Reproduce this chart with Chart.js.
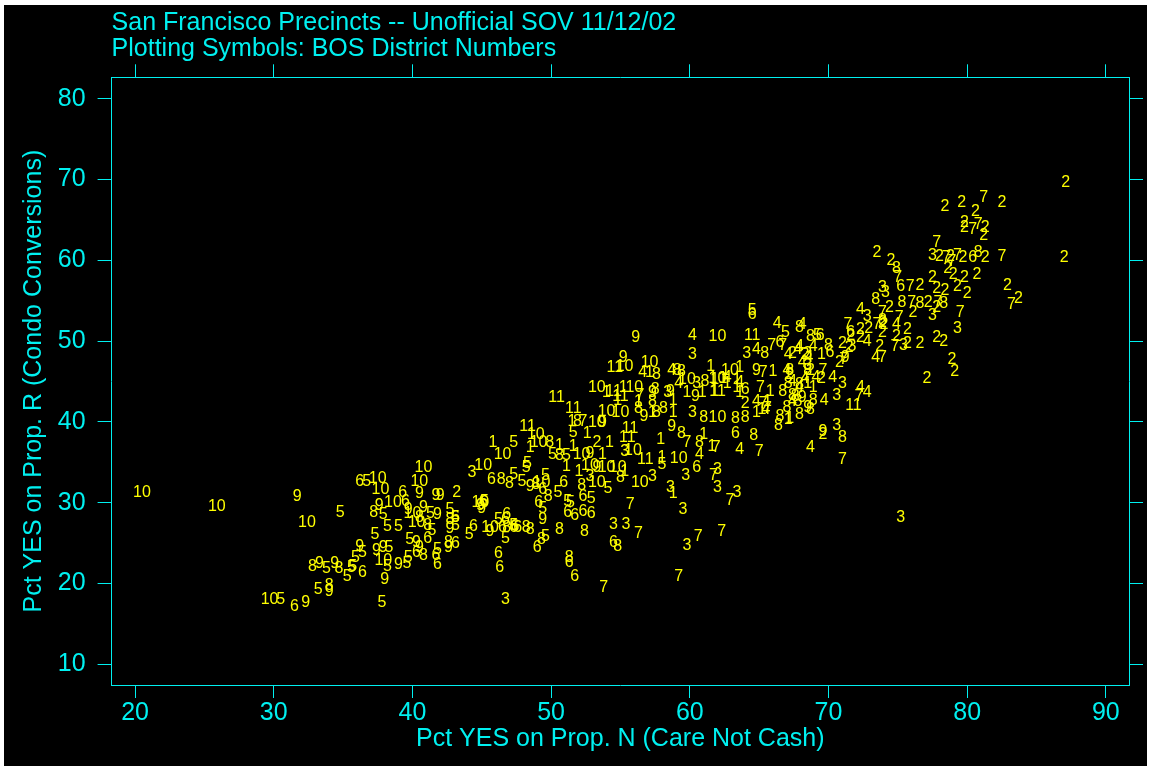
<!DOCTYPE html>
<html>
<head>
<meta charset="utf-8">
<title>San Francisco Precincts</title>
<script src="https://cdn.jsdelivr.net/npm/chart.js@4/dist/chart.umd.min.js"></script>
<style>
  html, body { margin: 0; padding: 0; background: #ffffff; }
  #wrap { position: absolute; left: 4px; top: 5px; width: 1143px; height: 761px; background: #000000; }
  canvas { display: block; }
</style>
</head>
<body>
<div id="wrap"><canvas id="sovChart" width="1143" height="761"></canvas></div>
<script>
// Precinct results, [pct YES on N, pct YES on R], grouped by BOS district
const dist1 = [[45.8,37.4],[48.5,36.8],[50.6,37.1],[51.6,36.9],[52.6,38.6],[53.7,35.9],[54.2,37.4],[51.1,34.5],[52.0,33.8],[57.1,46.1],[58.8,42.7],[54.0,43.6],[54.8,42.7],[56.3,42.5],[57.3,41.2],[58.8,41.1],[65.6,42.5],[64.8,41.2],[67.1,40.3],[61.0,38.4],[61.6,36.9],[57.9,37.8],[58.0,35.6],[55.3,33.8],[58.8,31.1],[61.5,46.8],[63.6,46.7],[61.8,45.2],[62.4,45.4],[62.7,44.8],[63.4,45.2],[63.4,44.2],[59.8,43.6],[60.9,43.6],[61.8,43.7],[63.6,43.6],[66.0,46.2],[68.9,44.2],[65.8,43.7],[65.2,41.5],[69.5,48.3],[68.5,44.8],[67.2,40.4],[55.2,44.3],[51.5,40.0]];
const dist2 = [[43.2,31.2],[53.3,37.5],[64.0,42.3],[67.4,48.5],[68.3,48.3],[68.7,46.4],[72.3,51.4],[72.9,51.6],[74.0,52.0],[75.7,51.4],[73.9,51.0],[74.9,50.5],[72.3,50.4],[77.8,50.4],[78.3,49.9],[76.6,49.7],[75.7,49.7],[71.0,49.7],[71.5,49.2],[70.8,47.3],[67.2,45.8],[69.5,45.4],[69.6,38.4],[77.1,45.4],[78.9,47.7],[79.1,46.2],[87.1,69.6],[87.0,60.3],[78.4,66.6],[79.6,67.2],[82.5,67.1],[80.6,66.0],[79.8,64.7],[79.8,64.1],[81.3,64.0],[81.2,63.1],[73.5,61.0],[78.0,60.4],[78.8,60.4],[79.7,60.3],[81.3,60.3],[78.6,59.0],[74.5,60.0],[77.5,57.9],[79.0,58.2],[79.8,57.8],[80.7,58.2],[82.9,56.9],[76.6,56.9],[77.8,56.5],[78.4,56.3],[79.3,56.7],[80.0,55.9],[77.2,54.8],[83.7,55.3],[74.4,54.1],[76.1,53.5],[77.8,54.2],[73.9,52.3],[71.6,50.7],[73.7,49.3]];
const dist3 = [[44.3,33.7],[46.7,18.0],[52.8,33.2],[54.5,27.3],[55.4,27.3],[59.5,29.2],[59.8,24.7],[60.2,48.3],[60.5,44.8],[60.2,41.1],[58.4,43.6],[59.7,33.3],[62.0,34.1],[62.0,31.9],[58.6,31.9],[57.3,33.2],[63.4,31.2],[55.3,36.3],[64.1,48.5],[68.5,48.5],[71.7,49.3],[75.4,49.5],[79.3,51.6],[68.5,47.0],[71.0,44.8],[70.6,43.3],[70.6,39.6],[77.5,60.6],[73.9,56.6],[74.1,56.0],[77.5,53.2],[72.8,53.0],[75.2,28.2]];
const dist4 = [[56.6,46.1],[58.7,46.4],[60.2,50.7],[66.3,52.2],[68.1,52.0],[64.8,48.9],[67.1,48.3],[67.8,48.9],[68.6,48.0],[67.0,46.4],[59.2,44.8],[62.7,45.5],[63.6,44.9],[67.4,45.0],[64.8,42.5],[65.5,41.5],[63.6,36.6],[60.7,35.9],[74.9,52.0],[72.8,49.9],[67.9,49.3],[68.9,49.3],[73.4,48.0],[68.1,47.4],[68.3,45.4],[69.1,45.5],[70.3,45.5],[67.9,44.2],[72.3,44.2],[72.8,43.6],[69.7,42.7],[67.4,42.5],[68.7,36.8],[72.3,53.9]];
const dist5 = [[34.8,28.8],[30.5,18.0],[33.8,21.9],[35.3,20.9],[35.6,22.0],[33.2,19.3],[36.7,32.6],[47.3,37.4],[47.3,33.5],[47.9,32.6],[48.2,34.4],[37.9,28.5],[41.3,28.7],[41.4,26.6],[42.7,29.1],[43.1,28.1],[43.1,27.2],[45.2,30.2],[44.1,26.0],[46.2,27.9],[46.7,25.6],[37.3,26.0],[38.2,27.0],[39.0,27.0],[35.9,23.2],[36.4,23.8],[38.3,24.5],[38.2,22.1],[39.6,22.5],[39.7,23.2],[35.7,22.1],[37.8,17.6],[39.8,25.4],[41.8,24.2],[51.6,38.7],[50.1,35.9],[51.1,35.8],[48.3,34.9],[49.6,33.4],[50.5,31.2],[54.1,31.8],[52.9,30.5],[51.2,30.1],[49.4,29.3],[51.4,30.0],[49.6,25.8],[58.0,34.7],[66.9,51.1],[69.2,50.7],[64.5,53.8],[47.3,27.2]];
const dist6 = [[31.5,17.1],[36.2,32.6],[39.3,31.2],[39.5,30.1],[45.7,32.8],[45.1,30.1],[44.4,27.0],[46.7,27.9],[47.3,26.9],[47.6,26.9],[46.2,23.7],[46.3,22.0],[36.4,21.3],[41.1,25.6],[41.7,23.5],[41.8,22.3],[43.1,25.0],[40.3,23.8],[49.4,31.6],[50.9,32.5],[52.3,30.7],[49.1,30.0],[51.2,28.8],[51.7,28.4],[52.3,28.9],[52.9,28.6],[49.0,24.5],[51.3,22.6],[51.7,20.8],[54.5,25.1],[60.5,34.4],[43.1,28.2],[46.8,28.5],[46.5,26.9],[47.4,27.0],[64.0,44.0],[63.3,38.6],[66.5,49.8],[69.4,50.7],[70.1,48.6],[71.6,51.1],[80.4,60.3],[75.2,56.7],[64.5,53.3]];
const dist7 = [[52.3,40.0],[56.4,43.3],[55.7,29.8],[56.3,26.2],[53.8,19.5],[60.6,25.8],[59.2,20.9],[59.8,37.4],[61.9,36.8],[65.0,36.3],[61.7,33.3],[62.9,30.3],[62.3,26.4],[65.3,46.1],[65.1,44.2],[65.3,42.3],[65.6,41.7],[65.9,49.5],[66.7,49.5],[69.6,46.4],[71.4,52.0],[73.5,52.0],[74.8,49.3],[71.1,47.7],[73.9,48.0],[72.2,43.1],[71.0,35.3],[81.2,67.8],[80.4,63.8],[80.8,64.4],[77.8,62.2],[78.5,60.3],[79.3,60.6],[78.9,59.8],[82.5,60.4],[75.0,57.9],[75.9,56.7],[76.0,54.8],[77.9,54.8],[83.2,54.5],[73.9,53.5],[79.5,53.5],[75.1,52.9]];
const dist8 = [[32.8,22.1],[34.7,21.8],[34.0,19.8],[37.2,28.8],[40.5,28.2],[41.1,27.2],[42.7,27.9],[46.4,32.8],[47.0,32.4],[46.8,26.9],[48.2,26.9],[40.8,23.5],[42.6,25.1],[49.9,37.4],[50.6,35.8],[48.9,32.2],[49.8,30.7],[52.2,32.1],[55.0,33.1],[48.5,26.7],[50.6,26.7],[52.4,26.4],[49.3,25.4],[54.8,24.6],[51.3,23.2],[57.6,45.8],[59.1,46.4],[57.5,44.0],[57.3,42.5],[56.3,41.7],[57.6,41.2],[58.1,41.7],[51.9,40.0],[59.4,38.6],[60.7,37.4],[67.0,41.8],[66.4,39.6],[64.0,40.5],[63.3,40.4],[64.6,38.3],[67.9,51.7],[65.4,48.5],[67.2,46.4],[59.4,46.2],[61.1,45.0],[67.1,44.8],[67.9,44.6],[66.7,43.7],[67.4,43.3],[67.8,42.5],[61.0,40.5],[66.5,40.6],[68.7,50.5],[70.0,49.5],[68.5,46.4],[68.9,42.7],[67.6,43.1],[68.7,41.5],[67.9,40.9],[71.0,38.1],[74.9,59.0],[73.4,55.1],[75.3,54.8],[76.6,54.7],[78.3,54.7],[73.9,52.6],[80.8,61.0]];
const dist9 = [[31.7,30.7],[32.3,17.6],[33.3,22.5],[34.4,22.5],[34.0,19.0],[37.6,29.7],[39.7,29.1],[40.8,29.4],[41.8,28.5],[40.5,31.1],[41.7,30.9],[42.0,30.9],[42.7,26.8],[45.0,29.3],[36.2,24.6],[37.4,24.1],[37.9,24.5],[39.0,22.3],[38.0,20.5],[40.3,25.1],[40.5,24.5],[42.6,24.5],[48.5,32.0],[52.8,36.1],[53.3,34.4],[49.4,27.9],[44.9,29.7],[45.6,26.4],[56.1,50.4],[55.2,48.0],[53.7,39.9],[58.6,43.7],[56.7,40.6],[58.7,39.4],[64.8,46.4],[57.3,43.6],[60.4,43.1],[68.5,41.8],[68.1,43.0],[71.2,48.0],[69.6,38.8]];
const dist10 = [[20.5,31.3],[25.9,29.5],[32.4,27.5],[29.7,18.0],[37.5,33.0],[37.7,31.6],[40.8,34.4],[40.5,32.6],[38.6,30.0],[40.0,28.7],[40.3,27.5],[45.1,34.6],[46.5,36.0],[37.9,22.8],[45.6,26.9],[44.9,30.0],[53.3,44.3],[54.0,41.3],[55.0,41.1],[49.1,37.5],[48.9,38.4],[52.2,36.0],[52.8,34.6],[54.0,34.3],[54.8,34.4],[53.3,32.5],[49.3,32.5],[55.3,46.8],[57.1,47.4],[56.0,44.3],[53.3,39.9],[56.4,32.5],[59.2,35.5],[59.8,45.2],[62.0,45.4],[62.0,50.5],[62.9,46.4],[62.0,40.5],[55.9,36.5]];
const dist11 = [[54.5,43.7],[50.4,43.0],[51.6,41.6],[55.0,43.1],[48.3,39.4],[54.6,46.7],[64.5,50.7],[55.7,39.2],[55.5,38.1],[56.8,35.3],[71.8,42.0],[62.0,43.7]];

const districtNames = ['1', '2', '3', '4', '5', '6', '7', '8', '9', '10', '11'];
const districtData = [dist1, dist2, dist3, dist4, dist5, dist6, dist7, dist8, dist9, dist10, dist11];

const titleLines = ['San Francisco Precincts -- Unofficial SOV 11/12/02', 'Plotting Symbols: BOS District Numbers'];
const xTitle = 'Pct YES on Prop. N (Care Not Cash)';
const yTitle = 'Pct YES on Prop. R (Condo Conversions)';
const xRange = [18.31, 91.67];
const yRange = [7.44, 82.65];

const CYAN = '#00f0f0';
const YELLOW = '#ffff00';
const FONT = '"Liberation Sans", Arial, sans-serif';
const TEXT_SIZE = 25;

// each precinct is drawn as its district number instead of a dot
const districtLabels = {
    id: 'districtLabels',
    afterDatasetsDraw(chart) {
        const ctx = chart.ctx;
        ctx.save();
        ctx.font = '16px ' + FONT;
        ctx.fillStyle = YELLOW;
        ctx.textAlign = 'center';
        ctx.textBaseline = 'middle';
        chart.data.datasets.forEach((ds, i) => {
            chart.getDatasetMeta(i).data.forEach(pt => ctx.fillText(ds.label, pt.x, pt.y));
        });
        ctx.restore();
    }
};

function axisOpts(pos, range, tickLen, extra) {
    return Object.assign({
        type: 'linear',
        position: pos,
        min: range[0],
        max: range[1],
        ticks: { stepSize: 10, includeBounds: false, display: false },
        grid: { display: true, drawOnChartArea: false, drawTicks: true, tickLength: tickLen, color: CYAN, lineWidth: 1 },
        border: { display: true, color: CYAN, width: 1 }
    }, extra);
}

const datasets = districtNames.map((name, i) => ({
    label: name,
    data: districtData[i].map(([n, r]) => ({ x: n, y: r })),
    pointRadius: 0,
    pointHoverRadius: 0,
    showLine: false
}));

const ctx = document.getElementById('sovChart').getContext('2d');
new Chart(ctx, {
    type: 'scatter',
    data: { datasets: datasets },
    plugins: [districtLabels],
    options: {
        responsive: false,
        animation: false,
        layout: { padding: 0 },
        plugins: {
            legend: { display: false },
            tooltip: { enabled: false },
            title: {
                display: true,
                text: titleLines,
                align: 'start',
                fullSize: false,
                color: CYAN,
                font: { family: FONT, size: TEXT_SIZE, weight: 'normal', lineHeight: 1.05 },
                padding: { top: 5, bottom: 0 }
            }
        },
        scales: {
            x: axisOpts('bottom', xRange, 13, {
                ticks: { stepSize: 10, includeBounds: false, color: CYAN, padding: 0, maxRotation: 0,
                         font: { family: FONT, size: TEXT_SIZE } },
                title: { display: true, text: xTitle, color: CYAN, font: { family: FONT, size: TEXT_SIZE },
                         padding: { top: 0, bottom: 12 } },
                afterFit: s => { s.height = 81; }
            }),
            y: axisOpts('left', yRange, 14, {
                ticks: { stepSize: 10, includeBounds: false, color: CYAN, padding: 12,
                         font: { family: FONT, size: TEXT_SIZE } },
                title: { display: true, text: yTitle, color: CYAN, font: { family: FONT, size: TEXT_SIZE },
                         padding: { top: 15, bottom: 0 } },
                afterFit: s => { s.width = 107.6; }
            }),
            x2: axisOpts('top', xRange, 13, { afterFit: s => { s.height = 14.8; } }),
            y2: axisOpts('right', yRange, 14, { afterFit: s => { s.width = 18; } })
        }
    }
});
</script>
</body>
</html>
